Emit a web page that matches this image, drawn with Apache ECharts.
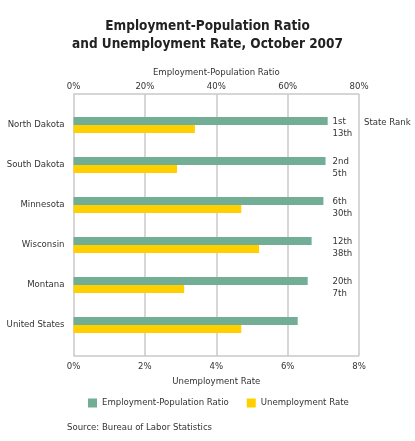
<!DOCTYPE html>
<html><head><meta charset="utf-8">
<script src="https://cdn.jsdelivr.net/npm/echarts@6/dist/echarts.min.js"></script>
<style>html,body{margin:0;padding:0;background:#fff}#c{width:415px;height:441px}</style>
</head><body><div id="c"></div>
<script>
var categories = ['North Dakota','South Dakota','Minnesota','Wisconsin','Montana','United States'];
var empPopRatio = [71.2, 70.6, 70.0, 66.7, 65.6, 62.8];
var unempRate = [3.4, 2.9, 4.7, 5.2, 3.1, 4.7];
var rankLabels = ['1st\n13th','2nd\n5th','6th\n30th','12th\n38th','20th\n7th',''];
var empTicks = [0,20,40,60,80];
var unempTicks = [0,2,4,6,8];

var FONT = '"DejaVu Sans Condensed", "DejaVu Sans", sans-serif';
var TXT = '#333';
var FS = 9.5;
var GL = 73.5, GW = 285.6;
var chart = echarts.init(document.getElementById('c'));
chart.setOption({
  animation:false,
  textStyle:{fontFamily:FONT},
  title:[
    {text:'Employment-Population Ratio\nand Unemployment Rate, October 2007', left:'center', top:12,
     textStyle:{fontSize:13.5,fontWeight:'bold',color:'#222',fontFamily:FONT,lineHeight:18}},
    {text:'State Rank', left:359, top:113, textStyle:{fontSize:FS,fontWeight:'normal',color:TXT,fontFamily:FONT}},
    {text:'Source: Bureau of Labor Statistics', left:62, top:418, textStyle:{fontSize:FS,fontWeight:'normal',color:TXT,fontFamily:FONT}}
  ],
  legend:{top:393, left:83, itemWidth:9, itemHeight:9, itemGap:18, icon:'rect',
    textStyle:{fontSize:FS,color:TXT,fontFamily:FONT},
    data:['Employment-Population Ratio','Unemployment Rate']},
  grid:[
    {left:GL, width:GW, top:94, height:262, outerBoundsMode:'none', containLabel:false},
    {left:GL, width:GW, top:105, height:240, outerBoundsMode:'none', containLabel:false},
    {left:GL, width:GW, top:107.5, height:240, outerBoundsMode:'none', containLabel:false}
  ],
  xAxis:[
    {gridIndex:0, type:'value', position:'top', min:0, max:80, interval:20,
     name:'Employment-Population Ratio', nameLocation:'middle', nameGap:16,
     nameTextStyle:{fontSize:FS,color:TXT,fontFamily:FONT},
     axisLine:{show:false}, axisTick:{show:false},
     axisLabel:{formatter:'{value}%', fontSize:FS, color:TXT, margin:2, fontFamily:FONT},
     splitLine:{show:true, lineStyle:{color:'#c8c8c8', width:1.5}}},
    {gridIndex:0, type:'value', position:'bottom', min:0, max:8, interval:2,
     name:'Unemployment Rate', nameLocation:'middle', nameGap:15.5,
     nameTextStyle:{fontSize:FS,color:TXT,fontFamily:FONT},
     axisLine:{show:false}, axisTick:{show:false},
     axisLabel:{formatter:'{value}%', fontSize:FS, color:TXT, margin:6, fontFamily:FONT},
     splitLine:{show:false}},
    {gridIndex:1, type:'value', min:0, max:80, show:false},
    {gridIndex:1, type:'value', min:0, max:8, show:false},
    {gridIndex:2, type:'value', min:0, max:80, show:false}
  ],
  yAxis:[
    {gridIndex:0, type:'value', min:0, max:1, interval:1, show:true, axisLabel:{show:false}, axisTick:{show:false},
     axisLine:{show:false}, splitLine:{show:true, lineStyle:{color:'#c8c8c8', width:1.5}}},
    {gridIndex:1, type:'category', inverse:true, data:categories,
     axisLine:{show:false}, axisTick:{show:false},
     axisLabel:{fontSize:FS, color:TXT, margin:9, fontFamily:FONT}},
    {gridIndex:2, type:'category', inverse:true, data:rankLabels, position:'right', offset:-28.5,
     axisLine:{show:false}, axisTick:{show:false},
     axisLabel:{fontSize:FS, color:TXT, margin:2, align:'left', lineHeight:12, fontFamily:FONT}}
  ],
  series:[
    {name:'Employment-Population Ratio', type:'bar', xAxisIndex:2, yAxisIndex:1, data:empPopRatio,
     barWidth:8, barGap:'0%', itemStyle:{color:'#72ad95'}},
    {name:'Unemployment Rate', type:'bar', xAxisIndex:3, yAxisIndex:1, data:unempRate,
     barWidth:8, barGap:'0%', itemStyle:{color:'#ffcf00'}}
  ]
});
</script></body></html>
